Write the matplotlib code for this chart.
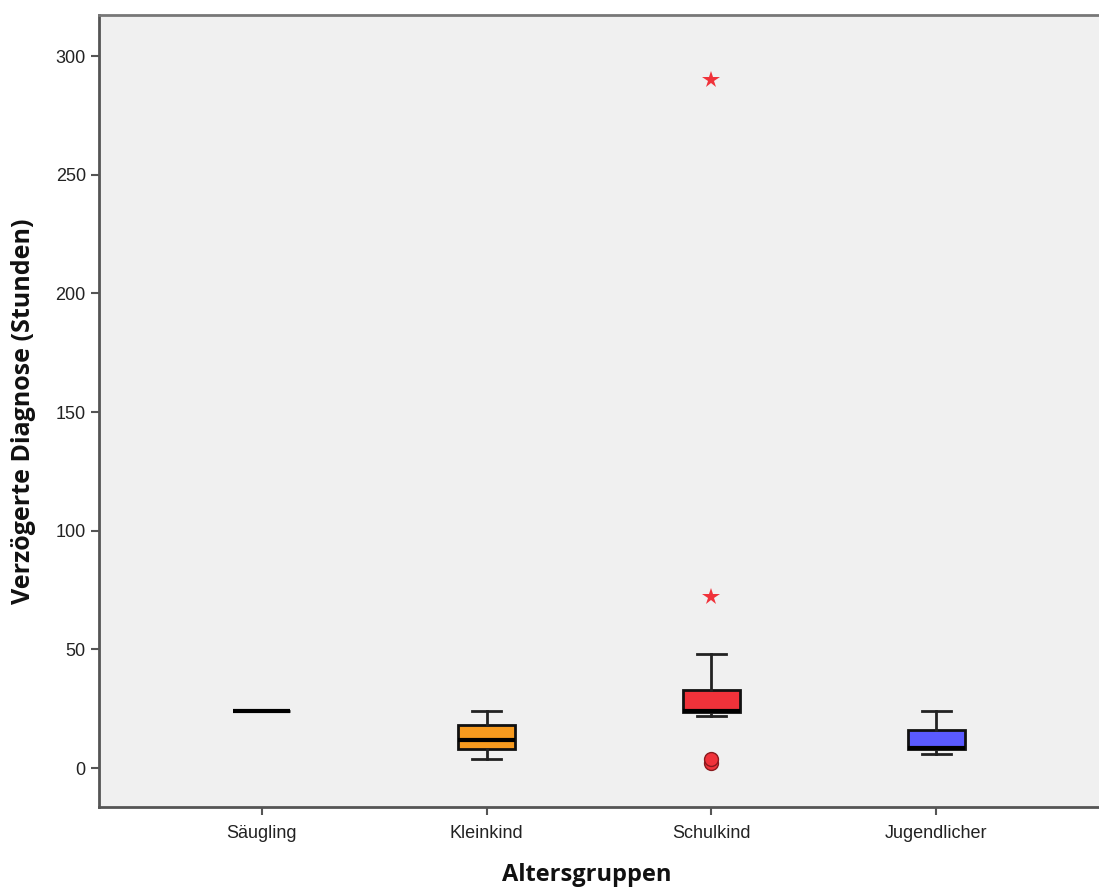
import matplotlib
matplotlib.use("Agg")
import matplotlib.pyplot as plt

# Summary statistics per age group (hours of delayed diagnosis)
groups = ["Säugling", "Kleinkind", "Schulkind", "Jugendlicher"]
whisker_low = [24, 4, 22, 6]
quartile_1 = [24, 8, 23.5, 8]
medians = [24, 12, 24, 8.5]
quartile_3 = [24, 18, 33, 16]
whisker_high = [24, 24, 48, 24]
outliers = [[], [], [2, 4], []]
extremes = [[], [], [72, 290], []]
box_colors = ["#e8a030", "#f79a1e", "#f0323a", "#5a5aff"]

y_ticks = [0, 50, 100, 150, 200, 250, 300]

fig = plt.figure(figsize=(10.99, 8.89), dpi=100)
ax = fig.add_axes([99 / 1099, 1 - 807 / 889, 1000 / 1099, (807 - 15) / 889])
ax.set_facecolor("#f0f0f0")

stats = []
for i, g in enumerate(groups):
    stats.append(dict(label=g, med=medians[i], q1=quartile_1[i], q3=quartile_3[i],
                      whislo=whisker_low[i], whishi=whisker_high[i], fliers=outliers[i]))

positions = list(range(len(groups)))
bp = ax.bxp(stats, positions=positions, widths=0.253, patch_artist=True,
            showfliers=True, capwidths=0.13,
            boxprops=dict(linewidth=2.0, edgecolor="#111111"),
            medianprops=dict(color="#000000", linewidth=3.0),
            whiskerprops=dict(color="#222222", linewidth=2.0),
            capprops=dict(color="#222222", linewidth=2.0),
            flierprops=dict(marker="o", markersize=10, markerfacecolor="#f0323a",
                            markeredgecolor="#8a1a1e", markeredgewidth=1.0))
for patch, c in zip(bp["boxes"], box_colors):
    patch.set_facecolor(c)

for i, ext in enumerate(extremes):
    if ext:
        ax.plot([positions[i]] * len(ext), ext, linestyle="none", marker="*",
                markersize=13, color="#f0323a", markeredgewidth=0.0)

ax.set_xlim(-0.724, 3.724)
ax.set_ylim(-16.4, 317.3)
ax.set_yticks(y_ticks)
ax.set_yticklabels([str(t) for t in y_ticks])
ax.set_xticks(positions)
ax.set_xticklabels(groups)

for side in ["left", "bottom", "top"]:
    ax.spines[side].set_color("#555555")
    ax.spines[side].set_linewidth(2.0)
ax.spines["top"].set_color("#777777")
ax.spines["right"].set_visible(False)

ax.tick_params(axis="both", direction="out", length=6, width=1.5, color="#555555",
               labelsize=13, labelcolor="#222222")
ax.tick_params(axis="x", pad=7)
for lab in ax.get_xticklabels() + ax.get_yticklabels():
    lab.set_family("Liberation Sans")

ax.set_xlabel("Altersgruppen", fontsize=17, fontweight="bold", family="Open Sans",
              color="#111111")
ax.xaxis.set_label_coords(0.488, -0.071)
ax.set_ylabel("Verzögerte Diagnose (Stunden)", fontsize=18, fontweight="bold",
              family="Open Sans", color="#111111", labelpad=14)

fig.savefig("out.png", dpi=100)
